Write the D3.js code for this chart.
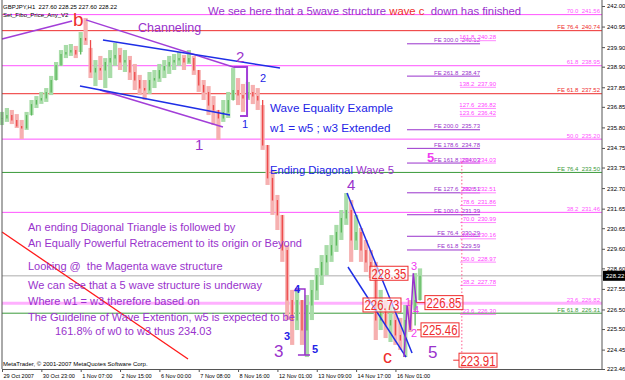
<!DOCTYPE html>
<html>
<head>
<meta charset="utf-8">
<script src="https://cdn.jsdelivr.net/npm/d3@7"></script>
<style>
  body { margin: 0; background: #fff; }
  svg { display: block; }
  text { font-family: "Liberation Sans", Arial, sans-serif; white-space: pre; }
</style>
</head>
<body>
<svg id="chart" width="625" height="380"></svg>
<script>
// GBPJPY H1, one entry every 4 bars
var barHigh = [236.59, 236.79, 236.69, 236.48, 236.18, 236.59, 237.20, 237.40, 237.61, 237.81,
  238.43, 239.14, 239.75, 240.01, 240.06, 239.96, 240.67, 241.39, 239.86, 239.24,
  239.45, 239.34, 239.75, 240.11, 239.86, 239.75, 239.45, 239.04, 238.48, 238.22,
  238.63, 238.73, 239.04, 239.24, 239.45, 239.55, 239.65, 239.50, 239.75, 239.45,
  238.73, 238.22, 237.91, 237.40, 236.69, 237.20, 237.61, 238.83, 238.32, 238.02,
  238.12, 237.97, 237.81, 236.94, 234.90, 233.62, 232.35, 231.33, 229.79, 227.50,
  227.55, 226.98, 227.24, 228.01, 228.62, 229.28, 229.79, 230.30, 230.82, 231.58,
  232.45, 232.09, 231.33, 230.66, 230.05, 229.54, 228.93, 227.50, 226.98, 226.73,
  226.47, 226.07, 226.73, 226.98, 228.36, 228.60]
var barLow = [235.92, 236.08, 235.97, 235.77, 235.21, 235.67, 236.43, 236.79, 237.00, 237.10,
  237.45, 238.22, 238.94, 239.34, 239.45, 239.34, 239.65, 240.01, 238.32, 237.91,
  238.22, 237.81, 238.32, 238.94, 238.73, 238.63, 238.22, 237.71, 237.45, 237.20,
  237.51, 237.81, 238.12, 238.32, 238.53, 238.73, 238.94, 238.73, 239.04, 238.48,
  237.61, 237.20, 236.43, 235.92, 235.16, 236.08, 236.28, 237.20, 236.94, 236.59,
  237.20, 236.99, 236.69, 234.65, 232.86, 231.33, 230.56, 228.93, 225.96, 224.69,
  225.45, 224.69, 224.07, 225.96, 226.98, 227.75, 228.26, 228.93, 229.44, 230.05,
  230.82, 228.93, 229.54, 228.93, 228.41, 228.11, 224.94, 225.45, 225.04, 224.84,
  224.69, 224.43, 224.07, 225.35, 226.47, 226.98]
var barClose = [236.28, 236.43, 236.18, 235.87, 235.77, 236.43, 236.99, 237.20, 237.30, 237.61,
  238.22, 238.99, 239.55, 239.65, 239.75, 239.55, 240.37, 240.26, 238.63, 238.83,
  238.73, 239.14, 239.34, 239.50, 239.14, 239.24, 238.63, 238.22, 237.81, 237.71,
  238.22, 238.32, 238.73, 238.94, 239.14, 239.24, 239.34, 239.14, 239.34, 238.73,
  237.97, 237.61, 236.94, 236.69, 236.28, 236.59, 237.20, 237.71, 237.45, 237.30,
  237.61, 237.40, 237.20, 234.90, 233.22, 232.09, 231.33, 229.54, 226.98, 225.96,
  226.98, 225.45, 226.73, 227.50, 228.26, 228.93, 229.28, 229.79, 230.46, 231.17,
  231.58, 230.05, 230.46, 229.54, 228.93, 228.62, 225.96, 226.47, 225.71, 225.96,
  225.20, 224.94, 225.96, 225.71, 226.98, 228.22]

var timeLabels = ['29 Oct 2007', '30 Oct 23:00', '1 Nov 07:00', '2 Nov 15:00', '6 Nov 00:00',
  '7 Nov 08:00', '8 Nov 16:00', '12 Nov 01:00', '13 Nov 09:00', '14 Nov 17:00', '16 Nov 01:00']
var timeBars = [0, 32, 64, 96, 128, 160, 192, 224, 256, 288, 320]
var priceTicks = [242.00, 240.95, 239.90, 238.90, 237.85, 236.85, 235.80, 234.75, 233.75, 232.70,
  231.65, 230.65, 229.60, 228.60, 227.55, 226.50, 225.50, 224.45, 223.46]
var lastPrice = 228.22

// full width fibo levels
var retraceLevels = [['70.0', 241.56], ['61.8', 238.95], ['50.0', 235.20], ['38.2', 231.46], ['23.6', 226.82]]
var feRedLevels = [['FE 76.4', 240.74], ['FE 61.8', 237.52]]
var feGreenLevels = [['FE 76.4', 233.50], ['FE 61.8', 226.31]]
// short fibo levels on the right
var feLevels = [['FE 300.0', 240.12], ['FE 261.8', 238.47], ['FE 200.0', 235.73], ['FE 178.6', 234.78],
  ['FE 161.8', 234.03], ['FE 127.6', 232.51], ['FE 100.0', 231.39], ['FE 76.4', 230.29], ['FE 61.8', 229.59]]
var subLevels = [['161.8', 240.28], ['138.2', 237.90], ['127.6', 236.82], ['123.6', 236.42], ['100.0', 234.03],
  ['88.6', 232.51], ['78.6', 231.86], ['70.0', 230.99], ['61.8', 230.16], ['50.0', 228.97], ['38.2', 227.78], ['23.6', 226.30]]

// trendlines as [bar, price]
var purpleLines = [[[0, 240.31], [57, 241.23]], [[68.3, 241.29], [188, 238.88]], [[79.7, 237.71], [179.7, 235.82]]]
var blueLines = [[[82.1, 240.26], [226.1, 238.83]], [[63.4, 237.91], [185.4, 236.43]],
  [[280.6, 232.45], [333.5, 224.28]], [[281.4, 228.67], [328.6, 224.07]]]
var redLine = [[0, 230.46], [151.3, 223.97]]
var bracket2 = [[188, 238.88], [199.3, 238.88], [199.3, 236.38], [193.6, 236.38]]
var bracket4 = [[238.3, 227.55], [246.4, 227.55], [246.4, 224.18], [240.7, 224.18], [250.5, 224.18]]
var subWave = [[327, 224.07], [329.5, 226.73], [332, 225.46], [334.5, 228.35], [337, 226.85]]
var waveBoxes = [[228.35, 299.3], [226.73, 293.6], [226.85, 344], [225.46, 340.8], [223.91, 371.7]]

var purple = '#9932cc', blue = '#2323e6', magenta = '#f03cf0', red = '#ee2d2d', green = '#3a9a3a'

var svg = d3.select('#chart')
var x = d3.scaleLinear().domain([0, 488]).range([2, 602])
var y = d3.scaleLinear().domain([223.46, 242.00]).range([369, 6])
var line = d3.line().x(d => x(d[0])).y(d => y(d[1]))

// horizontal full width levels
function fullLevel(list, color, width) {
  var g = svg.append('g')
  g.selectAll('line').data(list).join('line')
    .attr('x1', 2).attr('x2', 602)
    .attr('y1', d => y(d[1])).attr('y2', d => y(d[1]))
    .attr('stroke', color).attr('stroke-width', width)
  g.selectAll('text').data(list).join('text')
    .attr('x', 600).attr('y', d => y(d[1]) - 1.5)
    .attr('text-anchor', 'end').attr('font-size', 6).attr('fill', color)
    .text(d => d[0] + '  ' + d[1].toFixed(2))
}
svg.append('line').attr('x1', 2).attr('x2', 602).attr('y1', y(lastPrice)).attr('y2', y(lastPrice))
  .attr('stroke', '#c8c8c8').attr('stroke-width', 1.5)
fullLevel(retraceLevels.slice(0, 4), '#ff55ff', 1)
svg.append('line').attr('x1', 2).attr('x2', 602)
  .attr('y1', y(retraceLevels[4][1])).attr('y2', y(retraceLevels[4][1]))
  .attr('stroke', '#ffb0ff').attr('stroke-width', 3)
fullLevel(retraceLevels.slice(4), '#ff55ff', 0)
fullLevel(feRedLevels, red, 1)
fullLevel(feGreenLevels, green, 1)

// short levels
function shortLevel(list, x0, x1, color, lineColor) {
  var g = svg.append('g')
  g.selectAll('line').data(list).join('line')
    .attr('x1', x(x0)).attr('x2', x(x1))
    .attr('y1', d => y(d[1]) + 1).attr('y2', d => y(d[1]) + 1)
    .attr('stroke', lineColor).attr('stroke-width', 1)
  g.selectAll('text').data(list).join('text')
    .attr('x', x(x1)).attr('y', d => y(d[1]) - 0.5)
    .attr('text-anchor', 'end').attr('font-size', 6).attr('fill', color)
    .text(d => d[0] + '  ' + d[1].toFixed(2))
}
shortLevel(feLevels, 329.4, 388.8, purple, purple)
shortLevel(subLevels, 372.5, 401.8, '#ff44ff', '#ff88ff')
svg.append('line').attr('x1', x(374)).attr('x2', x(374))
  .attr('y1', y(234.03)).attr('y2', 369)
  .attr('stroke', '#ff5a8c').attr('stroke-dasharray', '1.5,2')

// bars
var bars = barHigh.map((h, i) => ({ i: i * 4, h: h, l: barLow[i], c: barClose[i], o: i ? barClose[i - 1] : barClose[0] }))
svg.append('g').selectAll('line').data(bars).join('line')
  .attr('x1', d => x(d.i)).attr('x2', d => x(d.i))
  .attr('y1', d => y(d.h)).attr('y2', d => y(d.l))
  .attr('stroke', d => d.c >= d.o ? '#a8dca8' : '#f6b0b0').attr('stroke-width', 4.2)
svg.append('g').selectAll('line').data(bars).join('line')
  .attr('x1', d => x(d.i)).attr('x2', d => x(d.i))
  .attr('y1', d => y(Math.max(d.o, d.c))).attr('y2', d => y(Math.min(d.o, d.c)) + 0.5)
  .attr('stroke', d => d.c >= d.o ? '#5cb85c' : '#ee4a4a').attr('stroke-width', 1.3)

// trendlines
purpleLines.forEach(p => svg.append('path').attr('d', line(p)).attr('fill', 'none').attr('stroke', '#a23ed8').attr('stroke-width', 1.5))
blueLines.forEach(p => svg.append('path').attr('d', line(p)).attr('fill', 'none').attr('stroke', '#1e2ee6').attr('stroke-width', 1.5))
svg.append('path').attr('d', line(redLine)).attr('fill', 'none').attr('stroke', '#ff1a1a').attr('stroke-width', 1.3)
svg.append('path').attr('d', line(bracket2)).attr('fill', 'none').attr('stroke', '#a23ed8').attr('stroke-width', 2)
svg.append('path').attr('d', line(bracket4)).attr('fill', 'none').attr('stroke', '#9932cc').attr('stroke-width', 1.5)
svg.append('path').attr('d', line(subWave)).attr('fill', 'none').attr('stroke', '#9932cc').attr('stroke-width', 1.5)

// price boxes
var boxes = svg.append('g').selectAll('g').data(waveBoxes).join('g')
boxes.append('rect').attr('x', d => x(d[1])).attr('y', d => y(d[0]) - 7)
  .attr('width', 38).attr('height', 14).attr('fill', '#fff').attr('fill-opacity', 0.6)
  .attr('stroke', red).attr('stroke-width', 1)
boxes.append('text').attr('x', d => x(d[1]) + 1.5).attr('y', d => y(d[0]) + 5.5)
  .attr('font-size', 14).attr('fill', red).attr('textLength', 35).attr('lengthAdjust', 'spacingAndGlyphs')
  .text(d => d[0].toFixed(2))
svg.append('line').attr('x1', x(337)).attr('x2', x(344)).attr('y1', y(226.85)).attr('y2', y(226.85)).attr('stroke', red)
svg.append('line').attr('x1', x(337.5)).attr('x2', x(340.8)).attr('y1', y(225.46)).attr('y2', y(225.46)).attr('stroke', red)
svg.append('line').attr('x1', x(367)).attr('x2', x(371.7)).attr('y1', y(223.91)).attr('y2', y(223.91)).attr('stroke', red)

// axes
var xAxis = d3.axisBottom(x).tickValues(timeBars).tickFormat((d, i) => timeLabels[i]).tickSize(3).tickSizeOuter(0)
var gx = svg.append('g').attr('transform', 'translate(0,369)').call(xAxis)
gx.select('.domain').attr('stroke', '#555')
gx.selectAll('.tick line').attr('stroke', '#555')
gx.selectAll('.tick text').attr('text-anchor', 'start').attr('dx', 1).attr('dy', 0)
  .attr('y', 8.5).attr('font-size', 5.6).attr('fill', '#000').style('font-family', '"Liberation Sans", Arial, sans-serif')

var yAxis = d3.axisRight(y).tickValues(priceTicks).tickFormat(d3.format('.2f')).tickSize(3).tickSizeOuter(0)
var gy = svg.append('g').attr('transform', 'translate(602,0)').call(yAxis)
gy.select('.domain').attr('stroke', '#555').attr('d', 'M0,0V369')
gy.selectAll('.tick line').attr('stroke', '#555')
gy.selectAll('.tick text').attr('x', 5).attr('font-size', 6).attr('fill', '#000').style('font-family', '"Liberation Sans", Arial, sans-serif')
svg.append('line').attr('x1', 2).attr('x2', 2).attr('y1', 0).attr('y2', 369).attr('stroke', '#555')

svg.append('rect').attr('x', 603).attr('y', y(lastPrice) - 5).attr('width', 22).attr('height', 10).attr('fill', '#000')
svg.append('text').attr('x', 606).attr('y', y(lastPrice) + 2.5).attr('font-size', 6).attr('fill', '#fff').text(lastPrice.toFixed(2))

// annotations
function note(t, px, py, size, color, weight) {
  return svg.append('text').attr('x', px).attr('y', py).attr('font-size', size)
    .attr('fill', color).attr('font-weight', weight || 'normal').text(t)
}
note('GBPJPY,H1  227.60 228.25 227.60 228.22', 3, 9, 6, '#000')
note('Set_Fibo_Price_Any_V2', 3, 17, 6, '#000')
note('MetaTrader, \u00a9 2001-2007 MetaQuotes Software Corp.', 3, 366, 6, '#000')

var title = svg.append('text').attr('x', 208).attr('y', 15).attr('font-size', 11.3).attr('fill', purple)
title.append('tspan').text('We see here that a 5wave structure ')
title.append('tspan').attr('fill', red).text('wave c')
title.append('tspan').text('  down has finished')

note('b', 73, 26, 19, red)
note('Channeling', 138, 32, 12.5, purple)
note('2', 236, 62, 15, purple)
note('2', 260, 82, 11, blue)
note('1', 242, 128, 11, blue)
note('1', 195, 150, 15, purple)
note('Wave Equality Example', 270, 112, 11.7, blue)
note('w1 = w5 ; w3 Extended', 270, 132, 11.7, blue)
var ed = svg.append('text').attr('x', 270).attr('y', 174).attr('font-size', 11.3).attr('fill', blue)
ed.append('tspan').text('Ending Diagonal ')
ed.append('tspan').attr('fill', purple).text('Wave 5')
note('5', 427, 162, 13, magenta, 'bold')
note('4', 347, 190, 15, purple)
note('4', 294, 293, 11, blue, 'bold')
note('3', 284, 340, 11, blue, 'bold')
note('5', 312, 353, 11, blue, 'bold')
note('3', 274, 357, 17, purple)
note('c', 383, 363, 18, red)
note('5', 428, 358, 17, purple)
note('3', 411, 270, 11, magenta)
note('1', 405, 306, 11, magenta)
note('4', 413, 314, 11, magenta)
note('2', 411, 337, 11, magenta)

var story = ['An ending Diagonal Triangle is followed by',
  'An Equally Powerful Retracement to its origin or Beyond',
  'Looking @  the Magenta wave structure',
  'We can see that a 5 wave structure is underway',
  'Where w1 = w3 therefore based on',
  'The Guideline of Wave Extention, w5 is expected to be',
  '161.8% of w0 to w3 thus 234.03']
var storyY = [231, 247, 270, 289, 305, 321, 335]
story.forEach((t, i) => note(t, i < 6 ? 28 : 55, storyY[i], 11, purple))
</script>
</body>
</html>
